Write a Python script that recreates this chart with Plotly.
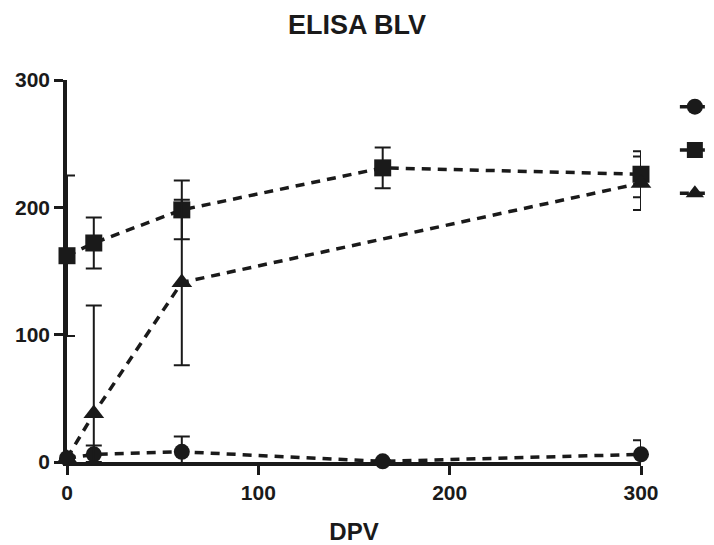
import plotly.graph_objects as go

# Data
x_circle = [0, 14, 60, 165, 300]
y_circle = [3, 6, 8, 0.5, 6]
e_circle = [2, 7, 12, 1, 11]

x_square = [0, 14, 60, 165, 300]
y_square = [162, 172, 198, 231, 226]
e_square = [63, 20, 23, 16, 18]

x_tri = [0, 14, 60, 300]
y_tri = [3, 38, 141, 219]
e_tri_plus = [2, 85, 65, 21]
e_tri_minus = [2, 38, 65, 21]

x_ticks = [0, 100, 200, 300]
y_ticks = [0, 100, 200, 300]

FONT = "Liberation Sans, Arial, sans-serif"
BLACK = "#1a1a1a"

fig = go.Figure()

def add(x, y, ep, em, symbol, size):
    fig.add_trace(go.Scatter(
        x=x, y=y, mode="lines+markers", name=" ",
        line=dict(color=BLACK, width=3.5, dash="9px,7px"),
        marker=dict(symbol=symbol, size=size, color=BLACK),
        error_y=dict(type="data", array=ep, arrayminus=em, symmetric=False,
                     color=BLACK, thickness=2, width=8),
        cliponaxis=False,
    ))

add(x_circle, y_circle, e_circle, e_circle, "circle", 16)
add(x_square, y_square, e_square, e_square, "square", 17)
add(x_tri, y_tri, e_tri_plus, e_tri_minus, "triangle-up", 18)

tickfont = dict(size=21, family=FONT, color=BLACK, weight="bold")

fig.update_layout(
    width=714, height=545,
    margin=dict(l=67, r=73, t=80, b=83, autoexpand=False),
    plot_bgcolor="white", paper_bgcolor="white",
    font=dict(family=FONT, color=BLACK),
    title=dict(text="ELISA BLV", x=0.5, xanchor="center", y=0.955, yanchor="middle",
               font=dict(size=27, family=FONT, color=BLACK, weight="bold")),
    showlegend=True,
    legend=dict(x=1.059, xanchor="left", y=1.0, yanchor="top",
                font=dict(size=31, family=FONT), itemwidth=30,
                bgcolor="rgba(0,0,0,0)"),
    xaxis=dict(range=[0, 300], tickvals=x_ticks, showline=True, linewidth=3.5, linecolor=BLACK,
               ticks="outside", ticklen=9, tickwidth=3, tickcolor=BLACK,
               showgrid=False, zeroline=False, tickfont=tickfont, automargin=False,
               title=dict(text="DPV", font=dict(size=24, family=FONT, color=BLACK, weight="bold"),
                          standoff=24)),
    yaxis=dict(range=[0, 300], tickvals=y_ticks, showline=True, linewidth=3.5, linecolor=BLACK,
               ticks="outside", ticklen=9, tickwidth=3, tickcolor=BLACK,
               showgrid=False, zeroline=False, tickfont=tickfont, automargin=False),
)

fig.write_html("out.html")
